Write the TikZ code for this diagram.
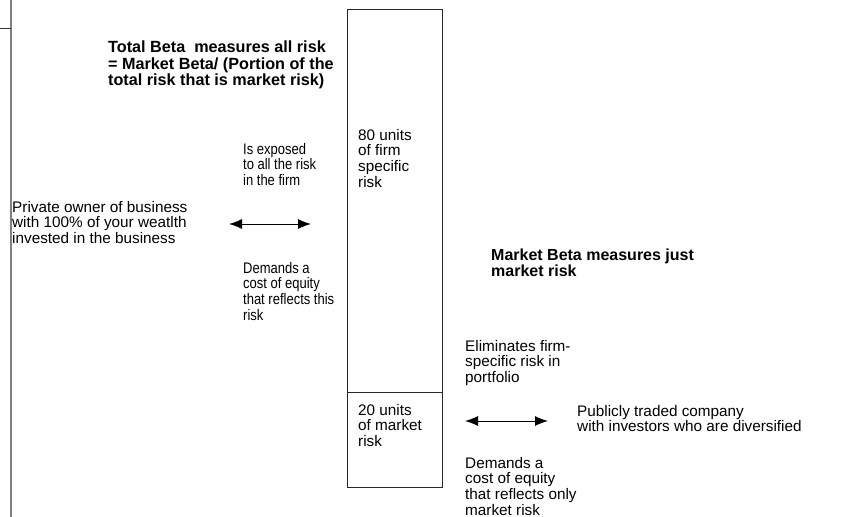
\documentclass[tikz,border=0pt]{standalone}
\usepackage{fontspec}
\setmainfont{Liberation Sans}
\usetikzlibrary{arrows.meta}
\begin{document}
\begin{tikzpicture}[x=1pt,y=-1pt,
  txt/.style={anchor=north west,inner sep=0pt,align=left,font=\fontsize{15.3}{15.6}\selectfont},
  stxt/.style={txt,xscale=0.85,transform shape},
  btxt/.style={anchor=north west,inner sep=0pt,align=left,font=\fontsize{16.2}{16.5}\selectfont\bfseries},
  boxline/.style={draw=black!85,line width=1.1pt},
  dbl/.style={{Latex[length=13pt,width=10pt]}-{Latex[length=13pt,width=10pt]},line width=1pt,black}]
\useasboundingbox (0,0) rectangle (847,517);
% left margin lines
\draw[gray,line width=1.5pt] (11,0) -- (11,517);
\draw[black!80,line width=1pt] (0,28) -- (11,28);
% risk column
\node[boxline,minimum width=95pt,minimum height=383pt,anchor=north west,inner sep=0pt] (firm) at (347,9) {};
\node[boxline,minimum width=95pt,minimum height=95pt,anchor=north west,inner sep=0pt] (mkt) at (347,392) {};
% texts
\node[btxt] (total) at (108,41) {Total Beta\ \ measures all risk\\= Market Beta/ (Portion of the\\total risk that is market risk)};
\node[stxt] (exposed) at (243,143) {Is exposed\\to all the risk\\in the firm};
\node[txt] (private) at (12,201) {Private owner of business\\with 100\% of your weatlth\\invested in the business};
\node[stxt] (demands1) at (243,262) {Demands a\\cost of equity\\that reflects this\\risk};
\node[txt] (u80) at (358,129) {80 units\\of firm\\specific\\risk};
\node[btxt,font=\fontsize{16}{15.5}\selectfont\bfseries] (mbeta) at (491,249) {Market Beta measures just\\market risk};
\node[txt] (elim) at (465,340) {Eliminates firm-\\specific risk in\\portfolio};
\node[txt] (u20) at (358,404) {20 units\\of market\\risk};
\node[txt] (public) at (577,405) {Publicly traded company\\with investors who are diversified};
\node[txt] (demands2) at (465,457) {Demands a\\cost of equity\\that reflects only\\market risk};
% arrows
\coordinate (a1) at (229,224);
\coordinate (b1) at (311,224);
\coordinate (a2) at (465,421);
\coordinate (b2) at (548,421);
\draw[dbl] (a1) -- (b1);
\draw[dbl] (a2) -- (b2);
\end{tikzpicture}
\end{document}
